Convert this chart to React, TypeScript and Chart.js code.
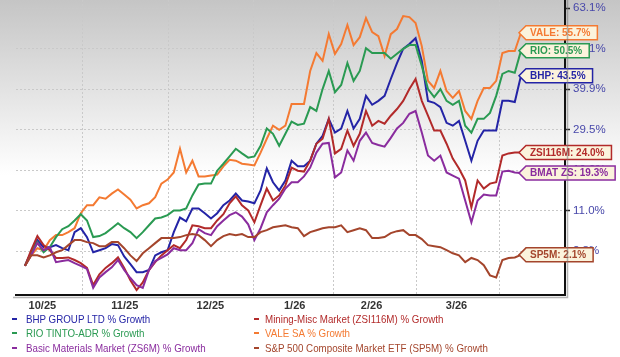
import React, { useEffect, useRef } from "react";
import { Chart, registerables } from "chart.js";
Chart.register(...registerables);

// x-axis month labels and their positions (in trading-sample index units)
const dateLabels = ["10/25", "11/25", "12/25", "1/26", "2/26", "3/26"];
const dateLabelPos = [2.8, 16.1, 29.9, 43.5, 55.9, 69.6];
const gridPos = [9.35, 23.1, 36.9, 49.7, 63.2, 76.5];
// y-axis tick labels (% growth, log-spaced)
const yTicks = [63.1, 51.1, 39.9, 29.5, 19.9, 11.0, 2.8];

// % growth series
const bhp = [0,2.6,5.0,3.6,3.6,4.0,3.4,3.0,6.6,7.4, 5.6,2.6,3.0,3.4,4.2,4.0,1.8,0.3,-1.2,-1.2, -0.8,2.0,2.6,3.0,6.6,9.6,8.8,11.5,11.5,10.5, 9.4,10.5,12.2,13.2,14.7,13.2,13.0,12.6,15.4,20.3, 17.2,15.4,17.6,22.1,20.8,20.8,22.1,26.1,28.0,32.2, 28.8,29.8,34.2,29.8,32.2,38.1,35.8,36.8,38.1,42.6, 47.0,51.0,52.4,54.1,47.6,36.8,36.3,35.2,31.2,30.5, 31.7,26.8,22.1,26.8,29.3,29.3,29.3,36.8,36.8,36.5,43.5];
const rio = [0,2.6,4.6,2.6,3.6,5.6,7.2,7.8,9.0,10.3, 9.0,5.6,5.8,6.4,7.4,8.4,7.4,6.6,5.4,6.6, 8.0,9.4,9.6,10.1,11.1,11.1,11.5,14.3,16.7,16.9, 16.9,19.8,21.4,23.1,24.9,23.8,22.8,23.1,25.6,29.8, 28.5,25.6,28.5,31.5,30.7,31.0,35.2,34.2,39.9,44.8, 39.1,41.0,47.0,42.1,44.8,51.2,49.8,49.8,49.8,48.2, 49.6,51.0,52.1,52.1,46.2,39.9,37.8,39.9,36.8,35.8, 36.8,30.5,28.8,32.2,32.2,33.7,38.1,44.0,44.8,44.3,50.5];
const bmat = [0,2.0,4.4,3.0,3.6,0.7,0.9,1.1,0.5,0, -0.6,-4.1,-2.2,-1.2,-0.3,1.1,-0.8,-2.3,-3.6,-4.1, -0.8,0.9,1.5,2.2,3.4,3.0,3.0,4.4,7.2,6.4, 6.0,7.8,9.0,10.1,10.7,9.8,8.2,5.0,7.4,10.7, 12.2,13.6,15.8,17.2,17.2,18.5,20.5,24.0,26.1,26.3, 18.3,19.4,24.5,22.1,26.8,28.8,26.3,25.8,25.4,27.5, 29.8,31.2,33.5,34.2,28.8,23.3,22.1,23.3,19.4,18.7, 18.0,13.2,8.6,13.2,14.5,14.3,14.3,19.6,19.8,19.4,19.3];
const zsi = [0,3.0,5.8,4.0,3.0,1.5,1.5,1.6,1.1,0.5, -0.4,-3.6,-1.6,-0.4,0.5,1.6,-0.4,-2.7,-4.5,-3.1, -0.8,0.7,2.0,3.0,4.0,3.4,5.0,8.0,7.8,7.4, 7.4,9.0,10.3,12.6,14.1,12.2,11.1,8.6,12.2,15.8, 13.2,14.3,16.5,20.5,19.8,19.6,22.1,26.1,27.3,32.2, 23.8,24.9,29.3,25.6,28.5,34.2,30.5,31.7,31.0,33.0, 34.7,36.8,39.9,42.6,36.8,33.0,29.3,29.3,26.1,22.6, 20.3,17.6,11.7,17.6,15.8,16.9,17.2,23.3,23.8,24.0,24.0];
const vale = [0,2.0,3.4,3.0,5.0,6.0,6.0,6.6,7.4,10.5, 12.2,12.2,13.9,13.6,14.7,15.6,14.5,13.4,11.5,12.2, 12.6,13.9,16.9,17.8,19.4,24.9,19.4,22.1,18.5,18.5, 18.7,18.9,20.8,22.3,22.1,21.4,21.2,21.0,24.0,27.3, 30.5,29.5,30.5,36.0,36.0,36.0,44.8,49.8,47.6,55.3, 49.6,52.4,58.0,52.1,54.4,60.1,55.9,54.7,49.0,55.3, 56.8,60.7,60.4,58.6,51.8,42.1,40.2,44.8,39.4,37.6, 39.4,34.2,32.2,36.8,40.2,40.2,42.1,49.8,50.4,50.4,55.7];
const sp5 = [0,2.0,2.0,1.6,2.0,2.6,3.0,4.0,5.0,5.0, 4.6,4.4,3.8,3.8,4.6,4.6,3.4,2.0,0.9,2.4, 3.4,4.4,5.4,5.4,5.4,5.6,6.0,6.2,6.0,5.0, 3.8,5.0,5.8,6.2,6.0,6.2,5.6,5.6,6.6,7.0, 7.6,7.8,8.0,7.6,7.4,5.8,6.6,7.0,7.4,7.6, 7.6,8.0,6.6,7.0,7.4,7.0,5.4,5.4,5.6,6.4, 6.8,7.0,6.0,6.0,5.2,4.0,3.8,3.6,3.0,2.4, 2.0,0.7,1.5,1.1,0.1,-1.8,-2.2,1.1,1.5,1.6,2.1];

const seriesNames = [
  "BHP GROUP LTD % Growth",
  "Mining-Misc Market (ZSI116M) % Growth",
  "RIO TINTO-ADR % Growth",
  "VALE SA % Growth",
  "Basic Materials Market (ZS6M) % Growth",
  "S&P 500 Composite Market ETF (SP5M) % Growth",
];
const seriesTags = ["BHP", "ZSI116M", "RIO", "VALE", "BMAT ZS", "SP5M"];
const seriesData = [bhp, zsi, rio, vale, bmat, sp5];
const seriesColors = ["#2424a6", "#b22a2a", "#2a9a52", "#f47a32", "#8a2c9e", "#a4452c"];
const drawOrder = [5, 4, 1, 2, 3, 0];

const SANS = '"Liberation Sans", Arial, sans-serif';

const bgPlugin = {
  id: "bgGrad",
  beforeDraw(chart: any) {
    const { ctx, width } = chart;
    const g = ctx.createLinearGradient(0, 0, 0, 175);
    g.addColorStop(0, "#c5c5c5");
    g.addColorStop(1, "#ffffff");
    ctx.save();
    ctx.fillStyle = g;
    ctx.fillRect(0, 0, width, 175);
    ctx.restore();
  },
};

const shadowPlugin = {
  id: "axisShadow",
  afterDraw(chart: any) {
    const { ctx, chartArea: a } = chart;
    ctx.save();
    ctx.strokeStyle = "rgba(120,120,120,0.55)";
    ctx.lineWidth = 1.5;
    ctx.beginPath();
    ctx.moveTo(a.left - 3, a.bottom + 2.5);
    ctx.lineTo(a.right + 2.5, a.bottom + 2.5);
    ctx.lineTo(a.right + 2.5, a.top);
    ctx.stroke();
    ctx.restore();
  },
};

const endLabelPlugin = {
  id: "endLabels",
  afterDatasetsDraw(chart: any) {
    const { ctx } = chart;
    ctx.save();
    ctx.font = "bold 10px " + SANS;
    chart.data.datasets.forEach((ds: any, di: number) => {
      const meta = chart.getDatasetMeta(di);
      const pts = meta.data;
      const last = pts[pts.length - 1];
      if (!last) return;
      const tipX = last.x - 2;
      const cy = last.y;
      const text = ds.tag + ": " + ds.values[ds.values.length - 1].toFixed(1) + "%";
      const tw = ctx.measureText(text).width;
      const bx = tipX + 7;
      const right = tipX + 11 + tw + 7;
      const h = 14;
      ctx.beginPath();
      ctx.moveTo(tipX, cy);
      ctx.lineTo(bx, cy - h / 2);
      ctx.lineTo(right, cy - h / 2);
      ctx.lineTo(right, cy + h / 2);
      ctx.lineTo(bx, cy + h / 2);
      ctx.closePath();
      ctx.fillStyle = "#fbf3dc";
      ctx.fill();
      ctx.lineWidth = 1.5;
      ctx.strokeStyle = ds.borderColor;
      ctx.stroke();
      ctx.fillStyle = ds.borderColor;
      ctx.textBaseline = "middle";
      ctx.textAlign = "left";
      ctx.fillText(text, tipX + 11, cy + 0.5);
    });
    ctx.restore();
  },
};

export default function App() {
  const ref = useRef<HTMLCanvasElement | null>(null);

  useEffect(() => {
    if (!ref.current) return;
    const datasets = drawOrder.map((k) => ({
      label: seriesNames[k],
      tag: seriesTags[k],
      values: seriesData[k],
      data: seriesData[k].map((v, i) => ({ x: i, y: 1 + v / 100 })),
      borderColor: seriesColors[k],
      backgroundColor: seriesColors[k],
      borderWidth: 2,
      pointRadius: 0,
      tension: 0,
      fill: false,
    }));
    const chart = new Chart(ref.current, {
      type: "line",
      data: { datasets } as any,
      plugins: [bgPlugin, shadowPlugin, endLabelPlugin],
      options: {
        animation: false,
        responsive: false,
        devicePixelRatio: 1,
        layout: { padding: { left: 16, top: 0, right: 0, bottom: 0 } },
        plugins: { legend: { display: false }, tooltip: { enabled: false } },
        scales: {
          x: {
            type: "linear",
            position: "bottom",
            min: -1.45,
            max: 87.1,
            afterBuildTicks: (s: any) => {
              s.ticks = dateLabelPos.map((v) => ({ value: v }));
            },
            afterFit: (s: any) => {
              s.height = 62;
              s.paddingLeft = 0;
              s.paddingRight = 0;
            },
            grid: { display: false, drawTicks: false },
            border: { display: true, color: "#111", width: 2 },
            ticks: {
              autoSkip: false,
              maxRotation: 0,
              padding: 4,
              color: "#333333",
              font: { size: 11, family: SANS, weight: "bold" },
              callback: (_v: any, i: number) => dateLabels[i],
            },
          },
          x2: {
            type: "linear",
            position: "top",
            min: -1.45,
            max: 87.1,
            afterBuildTicks: (s: any) => {
              s.ticks = gridPos.map((v) => ({ value: v }));
            },
            afterFit: (s: any) => {
              s.height = 0;
              s.paddingLeft = 0;
              s.paddingRight = 0;
            },
            grid: { display: true, color: "#c9c9c9", lineWidth: 1, drawTicks: false },
            border: { display: false, dash: [2, 2] },
            ticks: { display: false },
          },
          y: {
            type: "logarithmic",
            position: "right",
            min: 0.946,
            max: 1.657,
            afterBuildTicks: (s: any) => {
              s.ticks = yTicks.map((v) => ({ value: 1 + v / 100 }));
            },
            afterFit: (s: any) => {
              s.width = 55;
              s.paddingTop = 0;
              s.paddingBottom = 0;
            },
            grid: {
              color: "#c9c9c9",
              lineWidth: 1,
              drawTicks: true,
              tickLength: 5,
              tickColor: "#222",
              tickWidth: 1.5,
              tickBorderDash: [],
            },
            border: { display: true, color: "#111", width: 2, dash: [2, 2] },
            ticks: {
              autoSkip: false,
              padding: 3,
              color: "#4848aa",
              font: { size: 11.5, family: SANS },
              callback: (v: any) => (((v as number) - 1) * 100).toFixed(1) + "%",
            },
          },
        },
      } as any,
    });
    return () => chart.destroy();
  }, []);

  const legendRows = [
    [0, 1],
    [2, 3],
    [4, 5],
  ];
  const rowY = [319, 333, 348];
  const dashX = [12, 254];
  const textX = [26, 265];

  return (
    <div
      style={{
        position: "fixed",
        left: 0,
        top: 0,
        width: 620,
        height: 357,
        background: "#fff",
        overflow: "hidden",
      }}
    >
      <canvas ref={ref} width={620} height={357} style={{ width: 620, height: 357, display: "block" }} />
      {legendRows.map((row, r) =>
        row.map((k, c) => (
          <React.Fragment key={k}>
            <div
              style={{
                position: "absolute",
                left: dashX[c],
                top: rowY[r] - 1,
                width: 5,
                height: 2,
                background: seriesColors[k],
              }}
            />
            <div
              style={{
                position: "absolute",
                left: textX[c],
                top: rowY[r] - 7,
                height: 14,
                lineHeight: "14px",
                whiteSpace: "nowrap",
                fontFamily: SANS,
                fontSize: 10.5,
                color: seriesColors[k],
                transform: "scaleX(0.93)",
                transformOrigin: "0 50%",
              }}
            >
              {seriesNames[k]}
            </div>
          </React.Fragment>
        ))
      )}
    </div>
  );
}
